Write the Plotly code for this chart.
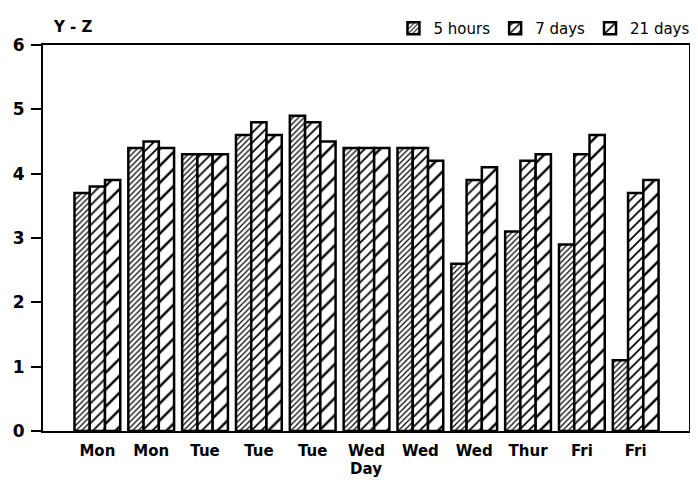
import plotly.graph_objects as go

days = ["Mon", "Mon", "Tue", "Tue", "Tue", "Wed", "Wed", "Wed", "Thur", "Fri", "Fri"]
positions = list(range(len(days)))
series_names = ["5 hours", "7 days", "21 days"]
hours5 = [3.7, 4.4, 4.3, 4.6, 4.9, 4.4, 4.4, 2.6, 3.1, 2.9, 1.1]
days7 = [3.8, 4.5, 4.3, 4.8, 4.8, 4.4, 4.4, 3.9, 4.2, 4.3, 3.7]
days21 = [3.9, 4.4, 4.3, 4.6, 4.5, 4.4, 4.2, 4.1, 4.3, 4.6, 3.9]
y_ticks = [0, 1, 2, 3, 4, 5, 6]

pattern_sizes = [4, 7, 12]
pattern_solidity = [0.3, 0.25, 0.2]
font_family = "DejaVu Sans"

fig = go.Figure()
for name, vals, ps, sol in zip(series_names, [hours5, days7, days21], pattern_sizes, pattern_solidity):
    fig.add_trace(go.Bar(
        x=positions, y=vals, name=name,
        marker=dict(color="white",
                    line=dict(color="black", width=2.5),
                    pattern=dict(shape="/", size=ps, solidity=sol,
                                 fgcolor="black", bgcolor="white", fillmode="replace")),
    ))

# page body has an 8px margin; size the figure so the page does not overflow
fig.update_layout(
    width=690, height=470,
    margin=dict(l=35, r=3, t=37, b=47),
    paper_bgcolor="white", plot_bgcolor="white",
    barmode="group", bargap=0.15, bargroupgap=0,
    font=dict(family=font_family, size=15, color="black", weight="bold"),
    showlegend=True,
    legend=dict(orientation="h", x=1.01, xanchor="right", y=1.0, yanchor="bottom",
                font=dict(size=15, weight="normal"), tracegroupgap=0,
                bgcolor="rgba(0,0,0,0)"),
    xaxis=dict(range=[-1.01, 10.99], tickmode="array", tickvals=positions, ticktext=days,
               showline=True, linecolor="black", linewidth=2, mirror=True,
               showgrid=False, zeroline=False, ticks="", ticklabelstandoff=5,
               title=dict(text="Day", font=dict(size=15, weight="bold"), standoff=4),
               tickfont=dict(size=15, weight="bold")),
    yaxis=dict(range=[0, 6], tickvals=y_ticks, showline=True, linecolor="black", linewidth=2,
               mirror=True, showgrid=False, zeroline=False, ticks="outside", ticklen=10,
               tickwidth=2, tickcolor="black", ticklabelstandoff=3,
               tickfont=dict(size=17, weight="bold")),
    annotations=[dict(text="Y - Z", x=0.012, y=1.0, xref="paper", yref="paper",
                      xanchor="left", yanchor="bottom", yshift=7, showarrow=False,
                      font=dict(size=15, weight="bold"))],
)

fig.write_html("out.html")
